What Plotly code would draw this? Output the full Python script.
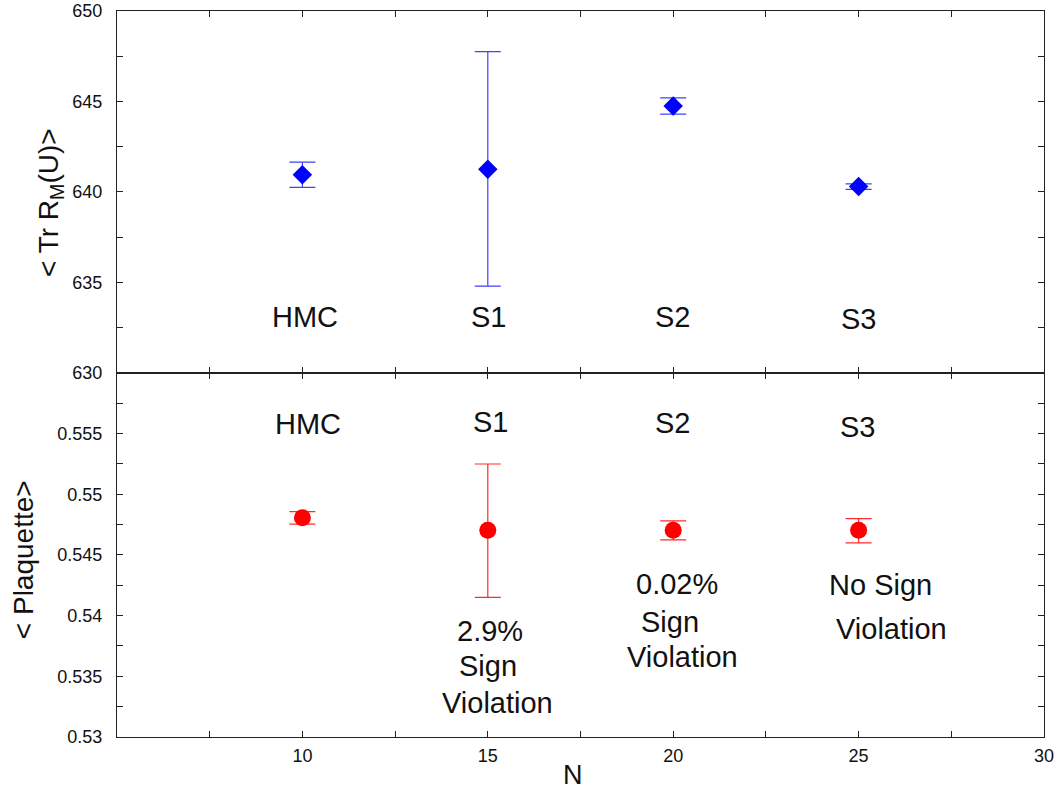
import plotly.graph_objects as go
from plotly.subplots import make_subplots

# ---------------- data ----------------
N_vals = [10, 15, 20, 25]
labels = ["HMC", "S1", "S2", "S3"]

tr_val = [640.95, 641.25, 644.75, 640.3]
tr_hi = [641.65, 647.75, 645.2, 640.45]
tr_lo = [640.25, 634.8, 644.3, 640.15]

pl_val = [0.54806, 0.54703, 0.54703, 0.54703]
pl_hi = [0.54858, 0.55250, 0.54781, 0.54800]
pl_lo = [0.54754, 0.54150, 0.54624, 0.54600]

x_ticks = [5, 7.5, 10, 12.5, 15, 17.5, 20, 22.5, 25, 27.5, 30]
x_ticktext = [" ", " ", "10", " ", "15", " ", "20", " ", "25", " ", "30"]
top_ticks = [630, 632.5, 635, 637.5, 640, 642.5, 645, 647.5, 650]
top_ticktext = ["630", " ", "635", " ", "640", " ", "645", " ", "650"]
bot_ticks = [0.53, 0.5325, 0.535, 0.5375, 0.54, 0.5425, 0.545, 0.5475, 0.55, 0.5525, 0.555, 0.5575, 0.56]
bot_ticktext = ["0.53", " ", "0.535", " ", "0.54", " ", "0.545", " ", "0.55", " ", "0.555", " ", " "]

# annotation texts (text, x, y)
top_notes = [("HMC", 10.07, 633.1), ("S1", 15.03, 633.1), ("S2", 19.99, 633.1), ("S3", 25.01, 633.0)]
bot_notes = [("HMC", 10.15, 0.5558), ("S1", 15.06, 0.55596), ("S2", 19.99, 0.55588), ("S3", 24.96, 0.55555),
             ("2.9%", 15.06, 0.53875), ("Sign", 15.0, 0.53586), ("Violation", 15.25, 0.53282),
             ("0.02%", 20.1, 0.54262), ("Sign", 19.91, 0.53949), ("Violation", 20.24, 0.53661),
             ("No Sign", 25.58, 0.54254), ("Violation", 25.9, 0.53891)]

FONT = "Liberation Sans, Arial, sans-serif"

fig = make_subplots(rows=2, cols=1, shared_xaxes=False, vertical_spacing=0)

fig.add_trace(go.Scatter(
    x=N_vals, y=tr_val, mode="markers",
    marker=dict(symbol="diamond", size=15, color="#0000ff"),
    error_y=dict(type="data", symmetric=False,
                 array=[h - v for h, v in zip(tr_hi, tr_val)],
                 arrayminus=[v - l for l, v in zip(tr_lo, tr_val)],
                 color="rgba(30,30,255,0.85)", thickness=1.2, width=13),
    showlegend=False), row=1, col=1)

fig.add_trace(go.Scatter(
    x=N_vals, y=pl_val, mode="markers",
    marker=dict(symbol="circle", size=17, color="#ff0000"),
    error_y=dict(type="data", symmetric=False,
                 array=[h - v for h, v in zip(pl_hi, pl_val)],
                 arrayminus=[v - l for l, v in zip(pl_lo, pl_val)],
                 color="rgba(255,20,20,0.9)", thickness=1.2, width=13),
    showlegend=False), row=2, col=1)

axis_common = dict(showline=True, linecolor="#222", linewidth=1.3, mirror="ticks",
                   ticks="inside", ticklen=6, tickcolor="#222", tickwidth=1,
                   showgrid=False, zeroline=False, automargin=False,
                   tickfont=dict(family=FONT, size=18, color="#111"))

fig.update_xaxes(**axis_common, range=[5, 30], tickmode="array", tickvals=x_ticks,
                 ticktext=[" "] * len(x_ticks), row=1, col=1)
fig.update_xaxes(**axis_common, range=[5, 30], tickmode="array", tickvals=x_ticks,
                 ticktext=x_ticktext, ticklabelstandoff=2, row=2, col=1)
fig.update_yaxes(**axis_common, range=[630, 650], tickmode="array", tickvals=top_ticks,
                 ticktext=top_ticktext, ticklabelstandoff=10, row=1, col=1)
fig.update_yaxes(**axis_common, range=[0.53, 0.56], tickmode="array", tickvals=bot_ticks,
                 ticktext=bot_ticktext, ticklabelstandoff=10, row=2, col=1)

fig.update_layout(
    width=1062, height=794,
    margin=dict(l=117, r=18, t=11, b=57),
    paper_bgcolor="white", plot_bgcolor="white",
    font=dict(family=FONT, color="#111"),
    yaxis=dict(domain=[0.5014, 1.0]),
    yaxis2=dict(domain=[0.0, 0.5014]),
)

ann = []
for t, x, y in top_notes:
    ann.append(dict(text=t, x=x, y=y, xref="x", yref="y", showarrow=False,
                    font=dict(family=FONT, size=29, color="#111")))
for t, x, y in bot_notes:
    ann.append(dict(text=t, x=x, y=y, xref="x2", yref="y2", showarrow=False,
                    font=dict(family=FONT, size=29, color="#111")))

ann.append(dict(text="< Tr R<sub>M</sub>(U)>", x=-0.0712, y=0.737, xref="paper", yref="paper",
                textangle=-90, showarrow=False, xanchor="center", yanchor="middle",
                font=dict(family=FONT, size=28, color="#111")))
ann.append(dict(text="< Plaquette>", x=-0.1, y=0.244, xref="paper", yref="paper",
                textangle=-90, showarrow=False, xanchor="center", yanchor="middle",
                font=dict(family=FONT, size=28, color="#111")))
ann.append(dict(text="N", x=0.492, y=-0.052, xref="paper", yref="paper",
                showarrow=False, xanchor="center", yanchor="middle",
                font=dict(family=FONT, size=27, color="#111")))
fig.update_layout(annotations=ann)

fig.write_html("out.html")
